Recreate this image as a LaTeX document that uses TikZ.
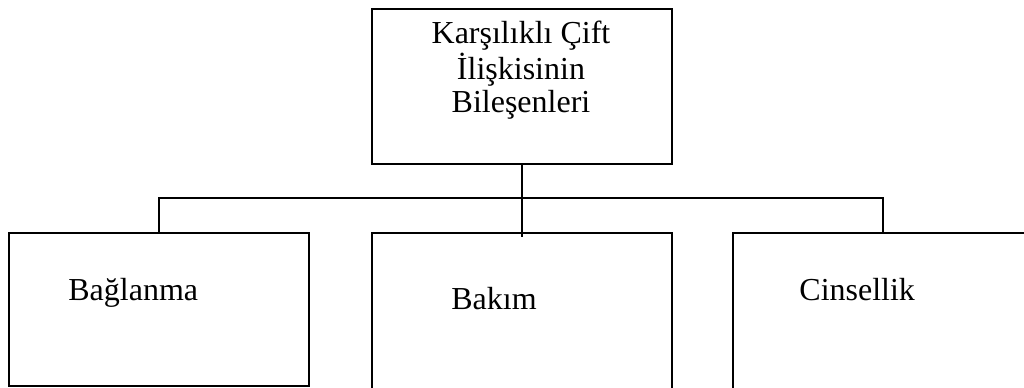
\documentclass[tikz,border=0pt]{standalone}
\usepackage{fontspec}
\setmainfont{Liberation Serif}

\begin{document}
\begin{tikzpicture}[x=0.5pt,y=-0.5pt,line width=1.4pt,
  box/.style={draw,minimum width=150pt,inner sep=0pt},
  txt/.style={font=\fontsize{16}{16.5}\selectfont,inner sep=0pt}]
\useasboundingbox (0,0) rectangle (1024,387);
\node[box,minimum height=77.5pt] (top) at (522,86.5) {};
\node[txt,align=center,anchor=base] (toptxt) at (521,112) {Karşılıklı Çift\\İlişkisinin\\Bileşenleri};
\node[box,minimum height=76.5pt] (bag) at (159,309.5) {};
\node[box,minimum height=81pt] (bak) at (522,314) {};
\node[box,minimum height=81pt] (cin) at (883,314) {};
\node[txt,anchor=base west] (bagtxt) at (67,300) {Bağlanma};
\node[txt,anchor=base west] (baktxt) at (450,309) {Bakım};
\node[txt,anchor=base west] (cintxt) at (798,300) {Cinsellik};
\coordinate (hub) at (522,198);
\draw (top.south) -- ([yshift=-2.5pt]top.south |- bak.north);
\draw (bag.north) -- (bag.north |- hub) -- (cin.north |- hub) -- (cin.north);
\end{tikzpicture}
\end{document}
